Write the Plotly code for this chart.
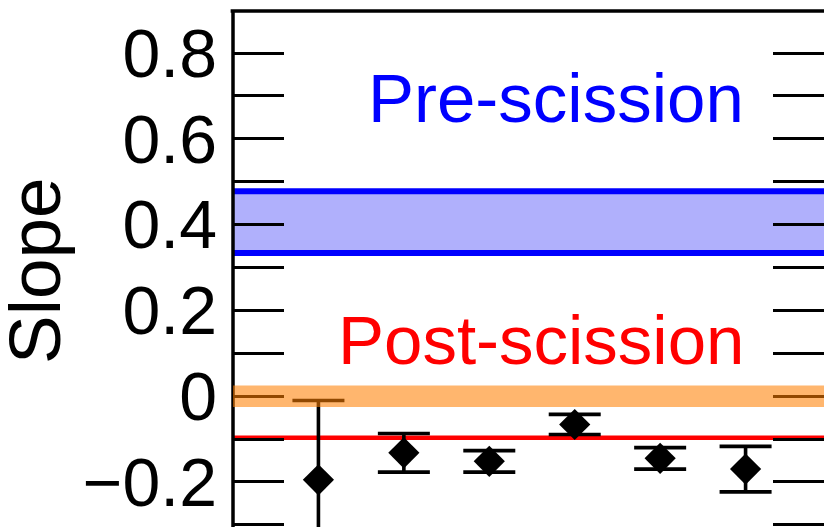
import plotly.graph_objects as go

# Measured slopes for the six systems, with one-sigma uncertainties
systems = [1, 2, 3, 4, 5, 6]
slopes = [-0.195, -0.132, -0.152, -0.066, -0.145, -0.170]
slope_err = [0.185, 0.045, 0.025, 0.0235, 0.025, 0.053]

# Reference bands / lines
pre_band = [0.334, 0.478]     # pre-scission expectation (lower, upper)
post_line = -0.097            # post-scission expectation
zero_band = [-0.025, 0.025]   # band around zero slope

y_ticks = [-0.2, 0, 0.2, 0.4, 0.6, 0.8]
y_tick_text = ["\u22120.2", "0", "0.2", "0.4", "0.6", "0.8"]

FONT = "Liberation Sans, Arial, Helvetica, sans-serif"
W, H = 824, 527
ML, MT = 233, 11
X_RANGE = [0, 6.918]
Y_RANGE = [-0.305, 0.898]

fig = go.Figure()

fig.add_trace(go.Scatter(
    x=systems, y=slopes,
    mode="markers",
    marker=dict(symbol="diamond", size=24, color="black", line=dict(width=0)),
    error_y=dict(type="data", array=slope_err, color="black",
                 thickness=3.6, width=26),
    showlegend=False,
))

shapes = [
    # pre-scission band
    dict(type="rect", xref="x", yref="y", x0=X_RANGE[0], x1=X_RANGE[1],
         y0=pre_band[0], y1=pre_band[1], fillcolor="rgb(176,176,252)",
         line=dict(width=0), layer="below"),
    dict(type="line", xref="x", yref="y", x0=X_RANGE[0], x1=X_RANGE[1],
         y0=pre_band[1], y1=pre_band[1], line=dict(color="rgb(0,0,255)", width=6),
         layer="below"),
    dict(type="line", xref="x", yref="y", x0=X_RANGE[0], x1=X_RANGE[1],
         y0=pre_band[0], y1=pre_band[0], line=dict(color="rgb(0,0,255)", width=6),
         layer="below"),
    # post-scission line
    dict(type="line", xref="x", yref="y", x0=X_RANGE[0], x1=X_RANGE[1],
         y0=post_line, y1=post_line, line=dict(color="rgb(255,0,0)", width=4.5),
         layer="below"),
    # frame: left axis line and top border
    dict(type="line", xref="paper", yref="paper", x0=0, x1=0, y0=0, y1=1,
         line=dict(color="black", width=3.5), layer="above"),
    dict(type="line", xref="paper", yref="paper", x0=-0.004, x1=1, y0=1, y1=1,
         line=dict(color="black", width=3.5), layer="above"),
    # translucent band around zero
    dict(type="rect", xref="x", yref="y", x0=X_RANGE[0], x1=X_RANGE[1],
         y0=zero_band[0], y1=zero_band[1], fillcolor="rgb(255,127,0)",
         opacity=0.57, line=dict(width=0), layer="above"),
]

annotations = [
    dict(text="Pre-scission", x=6.0, y=0.693, xref="x", yref="y",
         xanchor="right", yanchor="middle", showarrow=False,
         font=dict(family=FONT, size=69, color="rgb(0,0,255)")),
    dict(text="Post-scission", x=6.0, y=0.130, xref="x", yref="y",
         xanchor="right", yanchor="middle", showarrow=False,
         font=dict(family=FONT, size=69, color="rgb(255,0,0)")),
    dict(text="Slope", x=0, y=0.5, xref="paper", yref="paper",
         xanchor="center", yanchor="middle", xshift=-199, yshift=-2,
         textangle=-90, showarrow=False, borderpad=0,
         font=dict(family=FONT, size=73, color="black")),
]

fig.update_layout(
    width=W, height=H,
    margin=dict(l=ML, r=0, t=MT, b=0, pad=0),
    paper_bgcolor="white", plot_bgcolor="white",
    shapes=shapes, annotations=annotations,
    font=dict(family=FONT, color="black"),
)

fig.update_xaxes(range=X_RANGE, showline=False, showgrid=False, zeroline=False,
                 showticklabels=False, ticks="")

fig.update_yaxes(
    range=Y_RANGE, showline=False, mirror="ticks", showgrid=False, zeroline=False,
    tickmode="array", tickvals=y_ticks, ticktext=y_tick_text,
    ticks="inside", ticklen=25, tickwidth=3.2, tickcolor="black",
    tickfont=dict(family=FONT, size=68, color="black"),
    ticklabelstandoff=15,
    minor=dict(tickmode="linear", tick0=0, dtick=0.1, ticks="inside",
               ticklen=51, tickwidth=3.2, tickcolor="black", showgrid=False),
)

fig.write_html("out.html")
